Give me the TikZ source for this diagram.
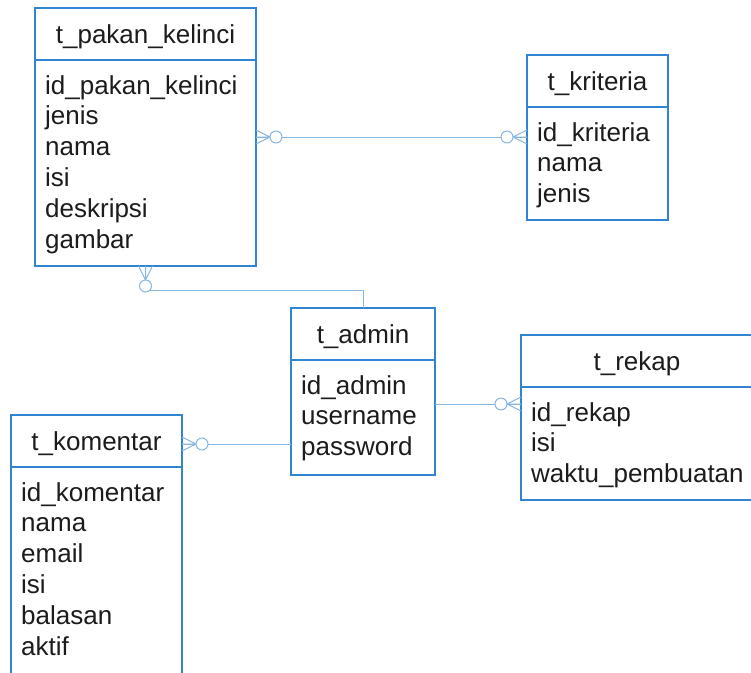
\documentclass[tikz,border=0pt]{standalone}
\usepackage{fontspec}
\setmainfont{Liberation Sans}
\definecolor{boxblue}{RGB}{48,132,208}
\definecolor{linkblue}{RGB}{135,182,226}
\definecolor{inkgray}{RGB}{28,28,28}
\tikzset{
  tbl/.style={draw=boxblue, line width=1.6pt, fill=white, inner sep=0pt, outer sep=0pt},
  rule/.style={draw=boxblue, line width=1.6pt},
  hdr/.style={anchor=base, inner sep=0pt, text=inkgray, font=\fontsize{26pt}{31pt}\selectfont},
  attr/.style={anchor=base west, inner sep=0pt, text=inkgray, font=\fontsize{26pt}{31pt}\selectfont},
  conn/.style={draw=linkblue, line width=1pt},
  manyzero/.pic={
    \draw[conn] (0,0) -- (14,0) (0,-7) -- (14,0) -- (0,7);
    \draw[conn, fill=white] (20,0) circle[radius=6pt];
  }
}
% one entity box: name, center, width, height, title, attribute list
\newcommand{\entitybox}[6]{%
  \node[tbl, minimum width=#3pt, minimum height=#4pt] (#1) at #2 {};
  \node[hdr] (#1-h) at ([yshift=-35pt]#1.north) {#5};
  \draw[rule] ([yshift=-52pt]#1.north west) -- ([yshift=-52pt]#1.north east);
  \foreach \t [count=\i] in {#6}
    \node[attr] (#1-\i) at ([xshift=10pt, yshift={-86pt-(\i-1)*30.8pt}]#1.north west) {\t};
}
\begin{document}
\begin{tikzpicture}[x=1pt, y=-1pt]
\clip (0,0) rectangle (751,672);
\fill[white] (0,0) rectangle (751,672);

\entitybox{pakan}{(145.5,137)}{221}{258}{t\_pakan\_kelinci}{id\_pakan\_kelinci, jenis, nama, isi, deskripsi, gambar}
\entitybox{kriteria}{(597.5,137.5)}{141}{165}{t\_kriteria}{id\_kriteria, nama, jenis}
\entitybox{admin}{(363,391.5)}{144}{167}{t\_admin}{id\_admin, username, password}
\entitybox{rekap}{(637,417.5)}{232}{165}{t\_rekap}{id\_rekap, isi, waktu\_pembuatan}
\entitybox{komentar}{(96.5,552.5)}{171}{275}{t\_komentar}{id\_komentar, nama, email, isi, balasan, aktif}

% routing helpers
\coordinate (bend) at (363,290);
\coordinate (lvlkom) at (0,444);
\coordinate (lvlrek) at (0,404);

% relationships
\draw[conn] (pakan.east) -- (kriteria.west |- pakan.east);
\draw[conn] (pakan.south) |- (bend) -- (admin.north);
\draw[conn] (admin.west |- lvlkom) -- (komentar.east |- lvlkom);
\draw[conn] (admin.east |- lvlrek) -- (rekap.west |- lvlrek);

% zero-or-many ends
\pic at (pakan.east) {manyzero};
\pic[rotate=180] at (kriteria.west |- pakan.east) {manyzero};
\pic[rotate=-90] at (pakan.south) {manyzero};
\pic at (komentar.east |- lvlkom) {manyzero};
\pic[rotate=180] at (rekap.west |- lvlrek) {manyzero};
\end{tikzpicture}
\end{document}
